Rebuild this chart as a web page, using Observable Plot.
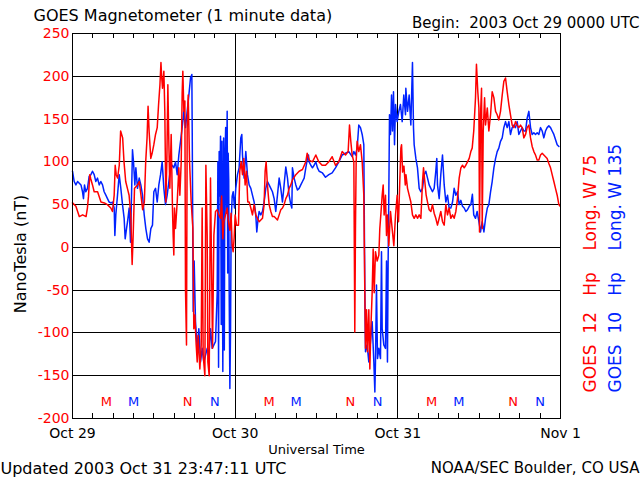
<!DOCTYPE html>
<html><head><meta charset="utf-8">
<script src="https://cdn.jsdelivr.net/npm/d3@7"></script>
<script src="https://cdn.jsdelivr.net/npm/@observablehq/plot@0.6"></script>
<style>html,body{margin:0;padding:0;background:#fff;} #chart svg{display:block}</style>
</head><body><div id="chart"></div>
<script>
// GOES 12 Hp (red): [hour since 2003-10-29 00 UT, nT]
const goes12 = [[0,52],[0.5,48],[1,36],[1.5,38],[2,36],[2.2,46],[2.35,59],[2.55,85],[2.7,80],[2.95,73],[3.2,65],[3.7,65],[4.2,53],[4.7,52],[5.15,50],[5.65,46],[5.9,42],[6.15,61],[6.3,96],[6.45,85],[6.65,81],[6.9,96],[7.1,136],[7.4,128],[7.6,100],[7.85,77],[8.1,69],[8.35,61],[8.6,38],[8.8,-20],[8.95,14],[9.15,69],[9.6,73],[9.85,77],[10.1,61],[10.35,44],[10.6,53],[10.8,100],[11,128],[11.15,165],[11.3,136],[11.55,104],[11.75,110],[12,120],[12.25,132],[12.5,140],[12.7,167],[12.9,190],[13.05,216],[13.15,200],[13.28,186],[13.48,206],[13.62,159],[13.77,53],[13.92,100],[14.07,190],[14.22,120],[14.36,69],[14.56,132],[14.76,42],[14.85,14],[14.95,-9],[15.05,46],[15.2,22],[15.45,53],[15.69,93],[15.84,61],[16.04,100],[16.18,180],[16.28,206],[16.43,159],[16.58,171],[16.67,-48],[16.82,-114],[16.92,140],[17.07,178],[17.27,100],[17.51,53],[17.76,22],[17.9,-95],[18.05,-79],[18.25,-114],[18.4,-134],[18.54,-103],[18.79,-142],[18.99,-114],[19.13,46],[19.28,-126],[19.53,-150],[19.68,96],[19.87,14],[19.97,-134],[20.17,-150],[20.36,81],[20.51,-18],[20.66,-118],[20.86,14],[21.1,42],[21.35,44],[21.59,38],[21.84,34],[22,60],[22.18,10],[22.33,30],[22.58,38],[22.82,46],[23,30],[23.22,20],[23.4,40],[23.56,2],[23.7,-5],[23.85,11],[24,38],[24.2,26],[24.49,26],[24.68,89],[24.88,100],[25.08,85],[25.27,104],[25.47,73],[25.67,89],[25.86,53],[26.06,53],[26.31,46],[26.55,38],[26.8,50],[27.04,38],[27.29,34],[27.54,30],[27.78,32],[28.03,34],[28.27,50],[28.42,89],[28.57,100],[28.76,73],[29.01,50],[29.26,42],[29.5,36],[29.75,36],[30,34],[30.24,32],[30.49,38],[30.73,44],[30.98,46],[31.22,50],[31.47,57],[31.72,61],[31.96,69],[32.21,73],[32.45,79],[32.95,85],[33.44,89],[33.93,91],[34.42,100],[34.62,110],[34.91,102],[35.4,100],[35.9,108],[36.34,100],[36.83,96],[37.33,96],[37.82,100],[38.31,106],[38.8,96],[39.29,100],[39.79,112],[40.28,108],[40.67,112],[40.87,143],[41.06,124],[41.26,108],[41.51,100],[41.65,-99],[41.75,22],[41.85,100],[42,124],[42.24,112],[42.49,120],[42.74,100],[42.98,61],[43.13,-53],[43.23,-118],[43.38,-73],[43.52,-122],[43.72,-73],[43.87,-142],[44.02,-95],[44.21,-53],[44.36,-2],[44.51,-53],[44.7,-5],[44.95,-16],[45.2,-9],[45.34,22],[45.49,38],[45.69,61],[45.84,73],[45.98,38],[46.18,61],[46.33,14],[46.47,38],[46.67,2],[46.92,42],[47.16,22],[47.41,2],[47.66,38],[47.9,61],[48,38],[48.1,30],[48.3,80],[48.45,116],[48.55,120],[48.7,88],[48.9,95],[49.1,73],[49.2,85],[49.43,69],[49.67,61],[49.92,53],[50.16,38],[50.41,34],[50.66,38],[50.9,34],[51.15,38],[51.4,34],[51.64,77],[51.79,93],[51.98,77],[52.18,61],[52.38,53],[52.62,44],[52.87,42],[53.11,50],[53.36,40],[53.6,34],[53.85,26],[54.1,34],[54.34,42],[54.59,30],[54.84,26],[55.08,50],[55.33,38],[55.57,46],[55.82,34],[56.07,38],[56.31,34],[56.56,42],[56.8,57],[57.05,81],[57.3,93],[57.54,96],[57.79,93],[58.03,96],[58.28,100],[58.53,104],[58.77,112],[58.97,116],[59.2,136],[59.46,175],[59.6,214],[59.8,182],[59.96,163],[60.05,18],[60.2,155],[60.35,186],[60.45,22],[60.6,136],[60.8,175],[60.94,143],[61.2,163],[61.43,136],[61.68,155],[61.92,182],[62.17,175],[62.42,159],[62.66,155],[62.9,149],[63.15,159],[63.4,178],[63.64,194],[63.89,198],[64.13,182],[64.38,167],[64.62,155],[64.87,143],[65.12,140],[65.36,147],[65.61,143],[65.85,140],[66.1,143],[66.35,140],[66.59,128],[66.84,132],[67.08,140],[67.33,143],[67.58,128],[67.82,118],[68.07,112],[68.31,108],[68.56,102],[68.8,102],[69.05,108],[69.3,110],[69.54,108],[69.79,106],[70.03,104],[70.28,98],[70.53,93],[70.77,85],[71.02,77],[71.26,69],[71.51,61],[71.76,50],[71.95,48]];

// GOES 10 Hp (blue)
const goes10 = [[0,89],[0.25,77],[0.5,73],[0.75,77],[1,75],[1.25,73],[1.48,65],[1.62,57],[1.77,73],[1.97,65],[2.21,69],[2.46,83],[2.71,85],[2.95,89],[3.2,85],[3.44,77],[3.69,81],[3.94,73],[4.18,77],[4.43,73],[4.67,65],[4.92,61],[5.16,57],[5.41,53],[5.66,52],[5.9,53],[6.15,46],[6.25,14],[6.39,38],[6.64,61],[6.89,85],[7.13,69],[7.38,50],[7.62,34],[7.77,10],[7.97,22],[8.12,30],[8.36,46],[8.56,6],[8.71,61],[8.85,114],[9,100],[9.2,73],[9.35,93],[9.59,69],[9.84,81],[10.08,73],[10.33,61],[10.58,38],[10.82,22],[11.07,10],[11.31,6],[11.56,22],[11.8,26],[12,65],[12.25,69],[12.5,53],[12.74,73],[12.99,85],[13.23,100],[13.48,69],[13.72,50],[13.97,61],[14.22,77],[14.46,93],[14.71,96],[14.95,93],[15.2,100],[15.45,85],[15.69,108],[15.94,124],[16.18,140],[16.43,159],[16.67,140],[16.92,159],[17.17,178],[17.41,198],[17.61,202],[17.66,140],[17.81,-75],[17.95,-16],[18.15,-87],[18.4,-118],[18.64,-95],[18.89,-134],[19.13,-118],[19.38,-134],[19.63,-126],[19.87,-118],[20.12,-126],[20.36,-95],[20.61,-118],[20.86,-114],[21.1,-110],[21.35,-53],[21.45,100],[21.55,-140],[21.64,112],[21.75,60],[21.84,130],[21.95,-90],[22.05,124],[22.18,-145],[22.3,128],[22.4,-120],[22.48,100],[22.6,140],[22.7,40],[22.82,159],[22.9,-30],[22.97,110],[23.05,80],[23.12,-53],[23.22,-165],[23.32,-95],[23.41,30],[23.56,60],[23.71,65],[23.9,46],[24.09,69],[24.34,85],[24.58,93],[24.83,128],[24.98,132],[25.08,108],[25.32,81],[25.57,112],[25.81,85],[26.06,73],[26.31,69],[26.55,61],[26.8,53],[27.04,38],[27.19,18],[27.39,34],[27.54,42],[27.78,38],[28.03,42],[28.27,53],[28.52,69],[28.76,77],[29.01,73],[29.26,69],[29.5,65],[29.75,57],[29.99,42],[30.24,61],[30.49,81],[30.73,69],[30.98,53],[31.22,73],[31.47,94],[31.72,81],[31.96,61],[32.21,50],[32.36,46],[32.45,93],[32.7,81],[32.95,73],[33.19,67],[33.44,69],[33.68,73],[33.93,77],[34.18,81],[34.42,93],[34.67,104],[34.82,108],[34.91,100],[35.16,96],[35.4,93],[35.65,96],[35.9,100],[36.14,93],[36.39,89],[36.88,87],[37.33,82],[37.82,85],[38.31,87],[38.8,93],[39.29,100],[39.79,108],[40.28,110],[40.77,112],[41.26,106],[41.51,112],[41.75,108],[42,116],[42.24,143],[42.49,140],[42.74,132],[42.98,120],[43.13,-53],[43.23,-122],[43.47,-114],[43.72,-134],[43.97,-110],[44.21,-87],[44.46,-134],[44.61,-169],[44.7,-134],[44.85,-44],[45,-130],[45.2,-118],[45.44,-130],[45.59,-5],[45.69,-95],[45.93,-114],[46.18,-118],[46.33,-16],[46.47,-134],[46.57,-16],[46.67,61],[46.77,155],[46.92,132],[47.07,178],[47.21,136],[47.36,182],[47.51,120],[47.66,167],[47.9,147],[48.15,159],[48.39,167],[48.64,147],[48.88,178],[49.13,155],[49.18,186],[49.43,159],[49.67,178],[49.92,143],[50.16,216],[50.31,140],[50.41,120],[50.66,104],[50.9,93],[51.15,69],[51.39,65],[51.64,69],[51.89,85],[52.13,89],[52.38,81],[52.62,73],[52.87,69],[53.11,65],[53.36,69],[53.6,89],[53.75,104],[53.85,73],[54.1,57],[54.34,85],[54.59,108],[54.84,73],[55.08,53],[55.33,61],[55.57,46],[55.82,46],[56.07,53],[56.31,69],[56.56,61],[56.8,65],[57.05,50],[57.3,55],[57.54,48],[57.79,46],[58.03,42],[58.28,44],[58.53,48],[58.77,50],[59,62],[59.1,50],[59.2,38],[59.46,34],[59.7,42],[59.96,30],[60.2,18],[60.45,30],[60.7,18],[60.94,34],[61.2,46],[61.43,50],[61.68,65],[61.92,77],[62.17,93],[62.42,104],[62.66,112],[62.9,116],[63.15,124],[63.4,128],[63.64,140],[63.89,147],[64.13,140],[64.38,147],[64.62,132],[64.87,140],[65.12,143],[65.36,140],[65.61,147],[65.85,132],[66.1,136],[66.35,140],[66.59,136],[66.84,136],[67.08,151],[67.33,159],[67.58,140],[67.82,132],[68.07,134],[68.31,132],[68.56,134],[68.8,132],[69.05,140],[69.3,136],[69.54,128],[69.79,136],[70.03,140],[70.28,142],[70.53,140],[70.77,136],[71.02,132],[71.26,126],[71.51,120],[71.76,118]];

const yTicks = [-200, -150, -100, -50, 0, 50, 100, 150, 200, 250];
const dayHours = [0, 24, 48, 72];
const dayLabels = ["Oct 29", "Oct 30", "Oct 31", "Nov 1"];
const minorHours = [3, 6, 9, 12, 15, 18, 21, 27, 30, 33, 36, 39, 42, 45, 51, 54, 57, 60, 63, 66, 69];
const goes12MarkHours = [5, 17, 29, 41, 53, 65];
const goes12MarkLabels = ["M", "N", "M", "N", "M", "N"];
const goes10MarkHours = [9, 21, 33, 45, 57, 69];
const goes10MarkLabels = ["M", "N", "M", "N", "M", "N"];

const NB = "\u00a0";
const titleText = "GOES Magnetometer (1 minute data)";
const beginText = "Begin:" + NB + NB + "2003 Oct 29 0000 UTC";
const updatedText = "Updated 2003 Oct 31 23:47:11 UTC";
const creditText = "NOAA/SEC Boulder, CO USA";
const goes12Label = "GOES" + NB + NB + "12" + NB + NB + NB + "Hp" + NB + NB + NB + NB + "Long." + NB + "W" + NB + "75";
const goes10Label = "GOES" + NB + NB + "10" + NB + NB + NB + "Hp" + NB + NB + NB + NB + "Long." + NB + "W" + NB + "135";

const crisp = "crispEdges";
const blue = "#0022ff";
const chart = Plot.plot({
  width: 640, height: 480,
  marginLeft: 72, marginRight: 80, marginTop: 33, marginBottom: 62,
  style: {fontFamily: "DejaVu Sans, sans-serif", fontSize: "14px", background: "white", color: "black"},
  x: {domain: [0, 72]},
  y: {domain: [-200, 250]},
  marks: [
    Plot.ruleY(yTicks, {stroke: "black", strokeWidth: 1, shapeRendering: crisp}),
    Plot.ruleX(dayHours, {stroke: "black", strokeWidth: 1, shapeRendering: crisp}),
    Plot.tickX(minorHours, {x: d => d, insetTop: 380, stroke: "black", shapeRendering: crisp}),
    Plot.tickX(minorHours, {x: d => d, insetBottom: 380, stroke: "black", shapeRendering: crisp}),
    Plot.line(goes10, {x: d => d[0], y: d => d[1], stroke: blue, strokeWidth: 1.5}),
    Plot.line(goes12, {x: d => d[0], y: d => d[1], stroke: "#ff0000", strokeWidth: 1.5}),
    Plot.frame({stroke: "black", strokeWidth: 1.5, shapeRendering: crisp}),
    Plot.axisY({ticks: yTicks, tickSize: 0, tickPadding: 3, tickFormat: d => String(d), fill: "red", fontSize: 14, label: null}),
    Plot.axisX({ticks: dayHours, tickSize: 0, tickPadding: 10, tickFormat: d => dayLabels[dayHours.indexOf(d)], fontSize: 14, label: null}),
    Plot.text(goes12MarkHours, {x: d => d, text: (d, i) => goes12MarkLabels[i], frameAnchor: "bottom", lineAnchor: "middle", dy: -17, fill: "red", fontSize: 13}),
    Plot.text(goes10MarkHours, {x: d => d, text: (d, i) => goes10MarkLabels[i], frameAnchor: "bottom", lineAnchor: "middle", dy: -17, fill: blue, fontSize: 13}),
    Plot.text([titleText], {text: d => d, frameAnchor: "top-left", lineAnchor: "middle", dx: -39, dy: -18, textAnchor: "start", fontSize: 16}),
    Plot.text([beginText], {text: d => d, frameAnchor: "top-right", lineAnchor: "middle", dx: 79, dy: -10, textAnchor: "end", fontSize: 15}),
    Plot.text(["Universal Time"], {text: d => d, frameAnchor: "bottom", lineAnchor: "middle", dy: 31, fontSize: 13}),
    Plot.text([updatedText], {text: d => d, frameAnchor: "bottom-left", lineAnchor: "middle", dx: -72, dy: 50, textAnchor: "start", fontSize: 16}),
    Plot.text([creditText], {text: d => d, frameAnchor: "bottom-right", lineAnchor: "middle", dx: 79, dy: 50, textAnchor: "end", fontSize: 15}),
    Plot.text(["NanoTesla (nT)"], {text: d => d, frameAnchor: "left", lineAnchor: "middle", dx: -52, dy: 28, rotate: -90, textAnchor: "middle", fontSize: 16}),
    Plot.text([goes12Label], {text: d => d, frameAnchor: "bottom-right", lineAnchor: "middle", dx: 30, dy: -26, rotate: -90, textAnchor: "start", fill: "red", fontSize: 17}),
    Plot.text([goes10Label], {text: d => d, frameAnchor: "bottom-right", lineAnchor: "middle", dx: 55, dy: -26, rotate: -90, textAnchor: "start", fill: blue, fontSize: 17})
  ]
});
document.getElementById("chart").append(chart);
</script>
</body></html>
